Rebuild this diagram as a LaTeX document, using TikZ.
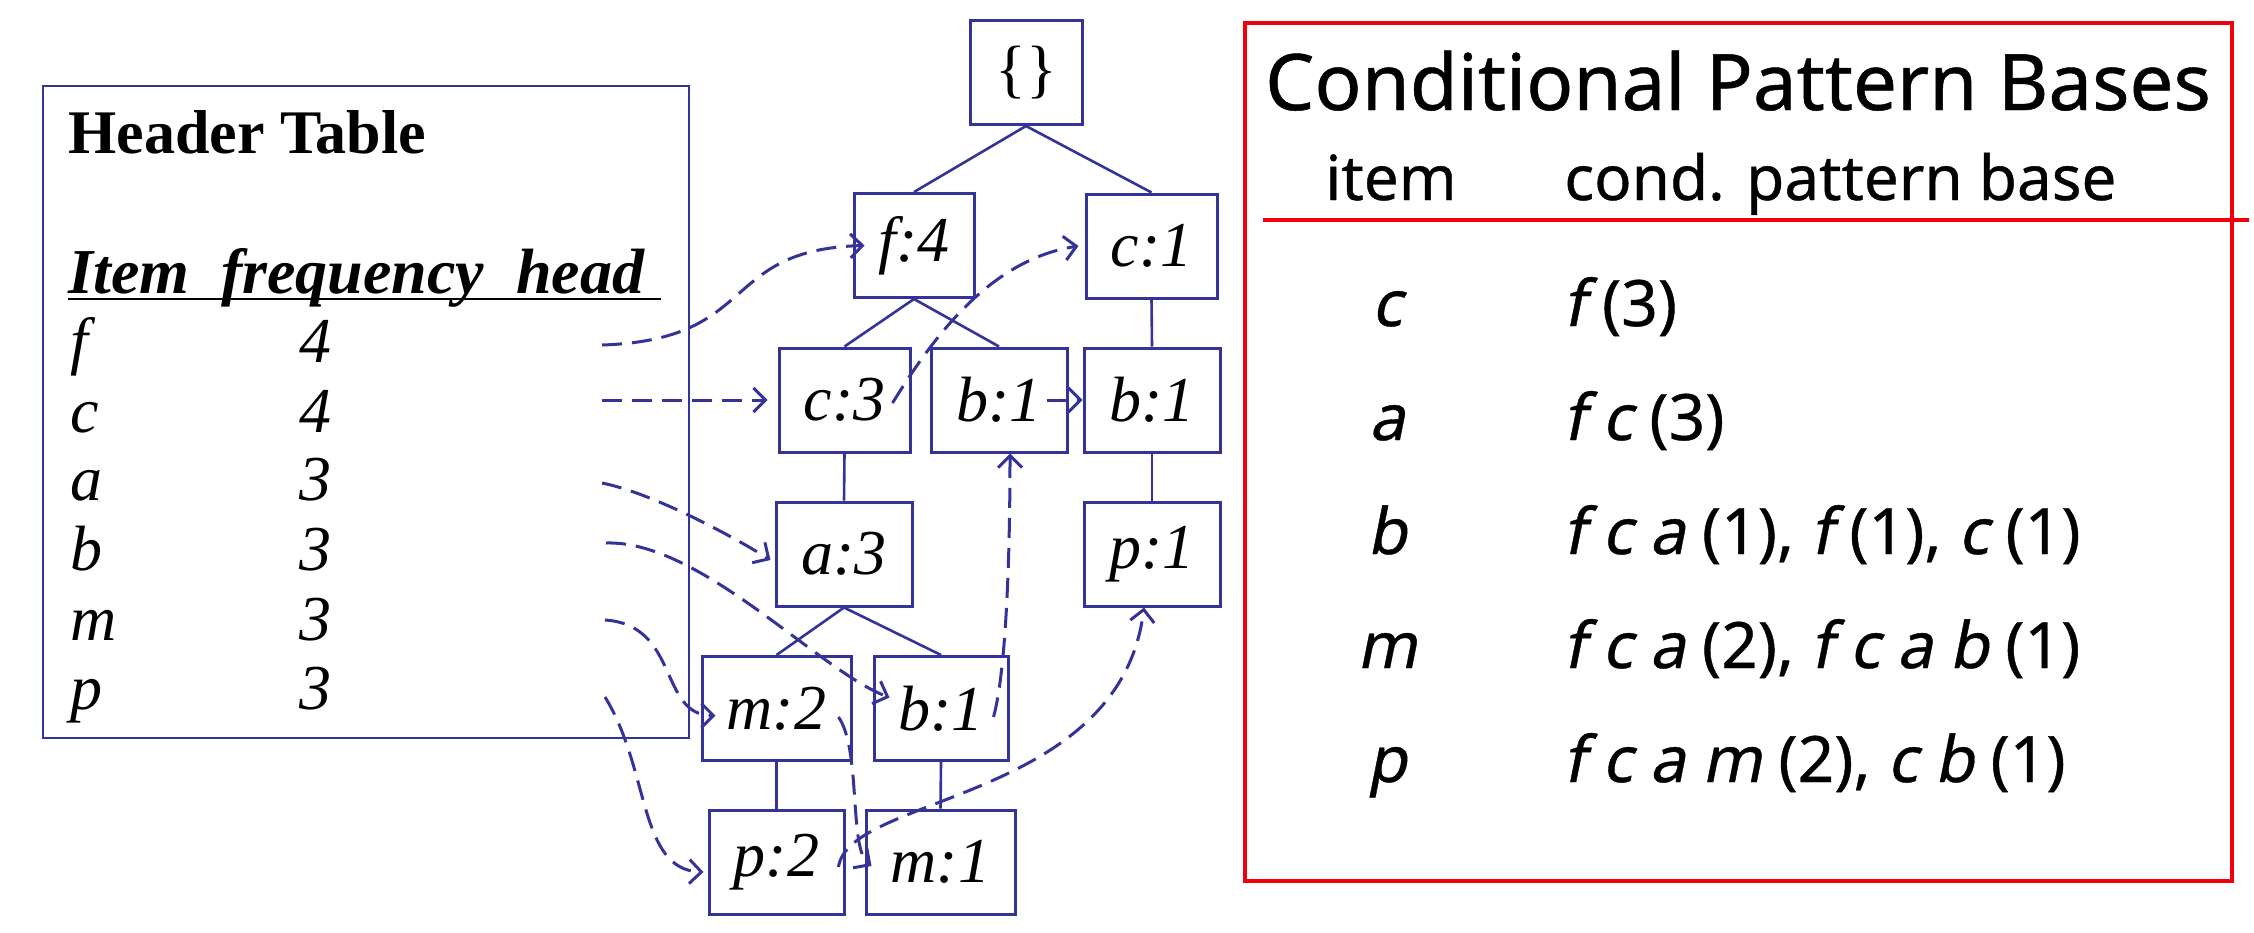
\documentclass[tikz,border=0pt]{standalone}
\usepackage{fontspec}
\setmainfont{Liberation Serif}
\newfontfamily\cpbfont[FakeBold=0.6]{Noto Sans}
\newfontfamily\cpbslant[FakeSlant=0.2,FakeBold=0.6]{Noto Sans}
\usetikzlibrary{arrows.meta}
\definecolor{fpblue}{RGB}{51,51,153}
\definecolor{cpbred}{RGB}{240,0,10}
\newcommand{\cpbv}[1]{{\cpbslant #1}}

\begin{document}
\begin{tikzpicture}[x=0.5pt,y=-0.5pt,
  txt/.style={inner sep=0pt,anchor=base west},
  fpnode/.style={draw=fpblue,line width=1.5pt,minimum height=52pt,inner sep=0pt,
    font=\fontsize{32}{36}\selectfont\itshape},
  fpedge/.style={fpblue,line width=1.3pt},
  fplink/.style={fpblue,line width=1.5pt,dash pattern=on 10pt off 5pt,
    -{Straight Barb[length=6pt,width=12pt]}},
  cpbrow/.style={inner sep=0pt,font=\fontsize{32}{36}\selectfont\cpbfont}]
\useasboundingbox (0,0) rectangle (2254,932);

% header table
\draw[fpblue,line width=1.4pt] (43,86) rectangle (689,738);
\node[txt,font=\fontsize{31}{36}\selectfont\bfseries] (hdrtitle) at (68,153) {Header Table};
\node[txt,font=\fontsize{32}{36}\selectfont\bfseries\itshape] (hdrcols) at (68,293) {Item\ \ frequency\ \ head};
\draw[line width=1.35pt] ([yshift=-3pt]hdrcols.base west) -- ([yshift=-3pt,xshift=8pt]hdrcols.base east);
\node[txt,font=\fontsize{32}{36}\selectfont\itshape] (item-f) at (70,362) {f};
\node[txt,font=\fontsize{32}{36}\selectfont\itshape] (freq-f) at (299,362) {4};
\node[txt,font=\fontsize{32}{36}\selectfont\itshape] (item-c) at (70,432) {c};
\node[txt,font=\fontsize{32}{36}\selectfont\itshape] (freq-c) at (299,432) {4};
\node[txt,font=\fontsize{32}{36}\selectfont\itshape] (item-a) at (70,500) {a};
\node[txt,font=\fontsize{32}{36}\selectfont\itshape] (freq-a) at (299,500) {3};
\node[txt,font=\fontsize{32}{36}\selectfont\itshape] (item-b) at (70,570) {b};
\node[txt,font=\fontsize{32}{36}\selectfont\itshape] (freq-b) at (299,570) {3};
\node[txt,font=\fontsize{32}{36}\selectfont\itshape] (item-m) at (70,640) {m};
\node[txt,font=\fontsize{32}{36}\selectfont\itshape] (freq-m) at (299,640) {3};
\node[txt,font=\fontsize{32}{36}\selectfont\itshape] (item-p) at (70,709) {p};
\node[txt,font=\fontsize{32}{36}\selectfont\itshape] (freq-p) at (299,709) {3};
\coordinate (head-f) at (602,345);
\coordinate (head-c) at (602,400);
\coordinate (head-a) at (602,483);
\coordinate (head-b) at (606,543);
\coordinate (head-m) at (605,620);
\coordinate (head-p) at (605,697);

% FP-tree
\node[fpnode,minimum width=56pt] (root) at (1026,72.5) {\upshape\{\}};
\node[fpnode,minimum width=60pt] (f4) at (914,245.5) {f:4};
\node[fpnode,minimum width=65.5pt] (c1) at (1151.5,246) {c:1};
\node[fpnode,minimum width=65.5pt] (c3) at (844.5,400) {c:3};
\node[fpnode,minimum width=68pt] (b1a) at (999,400) {b:1};
\node[fpnode,minimum width=68pt] (b1b) at (1152,400) {b:1};
\node[fpnode,minimum width=68pt] (a3) at (844,554) {a:3};
\node[fpnode,minimum width=68pt] (p1) at (1152,554) {p:1};
\node[fpnode,minimum width=74.5pt] (m2) at (776.5,708.5) {m:2};
\node[fpnode,minimum width=67pt] (b1c) at (941,708.5) {b:1};
\node[fpnode,minimum width=67.5pt] (p2) at (776.5,862) {p:2};
\node[fpnode,minimum width=74.5pt] (m1) at (940.5,862) {m:1};

\draw[fpedge] (root.south) -- (f4.north);
\draw[fpedge] (root.south) -- (c1.north);
\draw[fpedge] (f4.south) -- (c3.north);
\draw[fpedge] (f4.south) -- (b1a.north);
\draw[fpedge] (c1.south) -- (b1b.north);
\draw[fpedge] (c3.south) -- (a3.north);
\draw[fpedge] (b1b.south) -- (p1.north);
\draw[fpedge] (a3.south) -- (m2.north);
\draw[fpedge] (a3.south) -- (b1c.north);
\draw[fpedge] (m2.south) -- (p2.north);
\draw[fpedge] (b1c.south) -- (m1.north);

% node-links
\draw[fplink] (head-f) .. controls +(158,-5) and +(-146,4) .. ([xshift=6pt]f4.west);
\draw[fplink] (head-c) -- ([xshift=-5pt]c3.west);
\draw[fplink] (head-a) .. controls +(50,10) and +(-40,-25) .. ([shift={(-4,6)}]a3.west);
\draw[fplink] (head-b) .. controls +(94,-3) and +(-71,-27) .. ([shift={(17,-11)}]b1c.west);
\draw[fplink] (head-m) .. controls +(75,5) and +(-57,0) .. ([shift={(15,7)}]m2.west);
\draw[fplink] (head-p) .. controls +(45,73) and +(-65,-2) .. ([shift={(-4,10)}]p2.west);
\draw[fplink] ([shift={(-19,3)}]c3.east) .. controls +(39,-63) and +(-90,14) .. ([xshift=-3pt]c1.west);
\draw[fplink] ([xshift=-11pt]b1a.east) -- (b1b.west);
\draw[fplink] ([shift={(-16,8.5)}]b1c.east) .. controls +(13,-47) and +(0,98) .. ([xshift=5.5pt]b1a.south);
\draw[fplink] ([shift={(-14,8.5)}]m2.east) .. controls +(23,33) and +(-23,-16) .. ([shift={(7,4)}]m1.west);
\draw[fplink] ([shift={(-7,5)}]p2.east) .. controls +(10,-72) and +(-24,194) .. ([xshift=-4pt]p1.south);

% conditional pattern bases
\draw[cpbred,line width=2.2pt] (1245,23) rectangle (2232,881);
\node[inner sep=0pt,anchor=base,font=\fontsize{39}{44}\selectfont\cpbfont] (cpbtitle) at (1738,110) {Conditional Pattern Bases};
\node[cpbrow,anchor=base west,font=\fontsize{31}{36}\selectfont\cpbfont] (cpbitem) at (1325,200) {item};
\node[cpbrow,anchor=base west,font=\fontsize{31}{36}\selectfont\cpbfont] (cpbbase) at (1564,200) {cond. pattern base};
\draw[cpbred,line width=1.8pt] (1263,220) -- (2249,220);
\node[cpbrow,anchor=base] (cpb-c) at (1387,326) {\cpbv{c}};
\node[cpbrow,anchor=base west] (pat-c) at (1563,326) {\cpbv{f} (3)};
\node[cpbrow,anchor=base] (cpb-a) at (1387,440) {\cpbv{a}};
\node[cpbrow,anchor=base west] (pat-a) at (1563,440) {\cpbv{f c} (3)};
\node[cpbrow,anchor=base] (cpb-b) at (1387,554) {\cpbv{b}};
\node[cpbrow,anchor=base west] (pat-b) at (1563,554) {\cpbv{f c a} (1), \cpbv{f} (1), \cpbv{c} (1)};
\node[cpbrow,anchor=base] (cpb-m) at (1387,668) {\cpbv{m}};
\node[cpbrow,anchor=base west] (pat-m) at (1563,668) {\cpbv{f c a} (2), \cpbv{f c a b} (1)};
\node[cpbrow,anchor=base] (cpb-p) at (1387,782) {\cpbv{p}};
\node[cpbrow,anchor=base west] (pat-p) at (1563,782) {\cpbv{f c a m} (2), \cpbv{c b} (1)};
\end{tikzpicture}
\end{document}
